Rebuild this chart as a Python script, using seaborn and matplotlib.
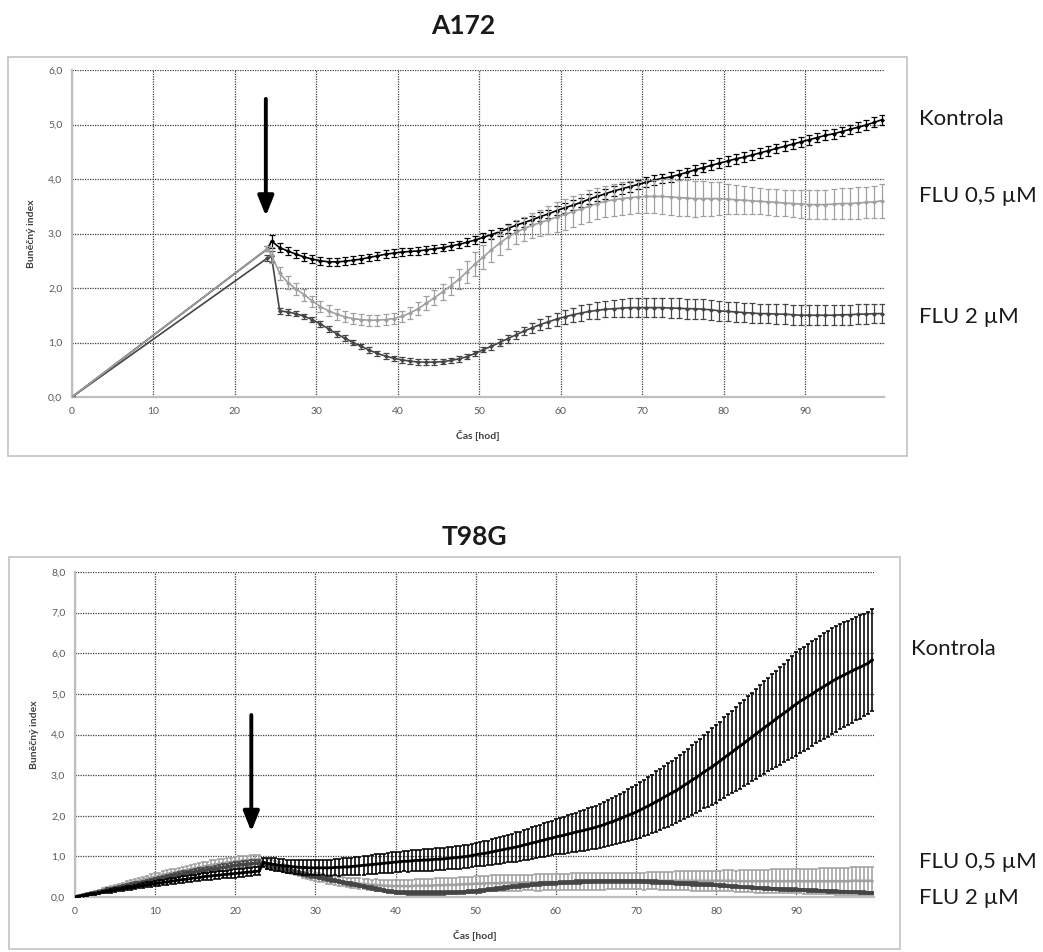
import numpy as np
import seaborn as sns
import matplotlib.pyplot as plt
from matplotlib.patches import Rectangle
from matplotlib.ticker import FuncFormatter

# ---------------- A172 data (hourly after treatment) ----------------
time_a172 = np.concatenate([[0.0, 24.0, 24.5], np.arange(25.5, 100.0, 1.0)])

kontrola_a172 = [
    0.00, 2.72, 2.86,
    2.74, 2.68, 2.62, 2.57, 2.53, 2.50, 2.48, 2.48, 2.49, 2.51,
    2.53, 2.56, 2.59, 2.62, 2.64, 2.66, 2.67, 2.68, 2.70, 2.72,
    2.74, 2.77, 2.80, 2.84, 2.88, 2.93, 2.98, 3.03, 3.09, 3.15,
    3.20, 3.25, 3.31, 3.36, 3.42, 3.47, 3.52, 3.57, 3.63, 3.68,
    3.73, 3.78, 3.82, 3.86, 3.90, 3.94, 3.98, 4.01, 4.04, 4.08,
    4.12, 4.17, 4.21, 4.25, 4.29, 4.33, 4.37, 4.40, 4.44, 4.48,
    4.52, 4.56, 4.60, 4.64, 4.68, 4.72, 4.76, 4.80, 4.83, 4.87,
    4.91, 4.95, 4.99, 5.04, 5.09,
]
kontrola_a172_err = [
    0.00, 0.05, 0.12,
    0.08, 0.08, 0.07, 0.07, 0.07, 0.07, 0.07, 0.07, 0.07, 0.07,
    0.07, 0.07, 0.07, 0.07, 0.07, 0.07, 0.07, 0.07, 0.07, 0.07,
    0.07, 0.07, 0.07, 0.07, 0.07, 0.08, 0.08, 0.08, 0.08, 0.08,
    0.08, 0.08, 0.08, 0.08, 0.08, 0.09, 0.09, 0.09, 0.09, 0.09,
    0.09, 0.09, 0.09, 0.09, 0.09, 0.09, 0.09, 0.09, 0.09, 0.09,
    0.09, 0.09, 0.09, 0.09, 0.09, 0.09, 0.09, 0.09, 0.09, 0.09,
    0.09, 0.09, 0.09, 0.09, 0.09, 0.09, 0.09, 0.09, 0.09, 0.09,
    0.09, 0.09, 0.09, 0.09, 0.09,
]
flu05_a172 = [
    0.00, 2.72, 2.60,
    2.27, 2.10, 1.98, 1.88, 1.76, 1.66, 1.58, 1.52, 1.47, 1.44,
    1.42, 1.41, 1.41, 1.42, 1.44, 1.48, 1.54, 1.62, 1.72, 1.82,
    1.93, 2.04, 2.16, 2.30, 2.44, 2.57, 2.70, 2.82, 2.93, 3.02,
    3.09, 3.15, 3.20, 3.25, 3.30, 3.35, 3.40, 3.45, 3.50, 3.55,
    3.59, 3.62, 3.64, 3.66, 3.67, 3.68, 3.68, 3.68, 3.67, 3.66,
    3.65, 3.64, 3.64, 3.64, 3.64, 3.63, 3.62, 3.61, 3.60, 3.59,
    3.58, 3.57, 3.56, 3.55, 3.54, 3.53, 3.53, 3.53, 3.54, 3.55,
    3.55, 3.56, 3.57, 3.58, 3.60,
]
flu05_a172_err = [
    0.00, 0.05, 0.15,
    0.12, 0.12, 0.11, 0.11, 0.10, 0.10, 0.10, 0.10, 0.10, 0.10,
    0.10, 0.10, 0.10, 0.10, 0.10, 0.10, 0.11, 0.12, 0.13, 0.14,
    0.15, 0.16, 0.18, 0.20, 0.22, 0.22, 0.22, 0.22, 0.22, 0.22,
    0.22, 0.23, 0.24, 0.25, 0.27, 0.28, 0.28, 0.28, 0.29, 0.29,
    0.29, 0.29, 0.30, 0.30, 0.30, 0.30, 0.31, 0.32, 0.33, 0.33,
    0.33, 0.33, 0.32, 0.31, 0.30, 0.28, 0.27, 0.26, 0.25, 0.24,
    0.24, 0.24, 0.24, 0.24, 0.25, 0.26, 0.27, 0.27, 0.27, 0.28,
    0.28, 0.29, 0.29, 0.30, 0.31,
]
flu2_a172 = [
    0.00, 2.55, 2.58,
    1.58, 1.56, 1.53, 1.48, 1.42, 1.34, 1.25, 1.16, 1.08, 1.00,
    0.93, 0.86, 0.80, 0.75, 0.71, 0.68, 0.66, 0.64, 0.64, 0.64,
    0.65, 0.67, 0.70, 0.74, 0.80, 0.87, 0.93, 1.00, 1.07, 1.14,
    1.21, 1.27, 1.33, 1.38, 1.43, 1.47, 1.51, 1.54, 1.57, 1.59,
    1.61, 1.62, 1.63, 1.64, 1.64, 1.64, 1.64, 1.64, 1.63, 1.63,
    1.62, 1.62, 1.61, 1.60, 1.58, 1.57, 1.56, 1.55, 1.54, 1.53,
    1.53, 1.52, 1.52, 1.51, 1.50, 1.50, 1.50, 1.50, 1.50, 1.51,
    1.51, 1.52, 1.52, 1.53, 1.53,
]
flu2_a172_err = [
    0.00, 0.05, 0.10,
    0.05, 0.05, 0.05, 0.05, 0.05, 0.05, 0.05, 0.05, 0.05, 0.05,
    0.05, 0.05, 0.05, 0.05, 0.05, 0.05, 0.05, 0.05, 0.05, 0.05,
    0.05, 0.05, 0.05, 0.05, 0.05, 0.05, 0.06, 0.06, 0.07, 0.07,
    0.08, 0.09, 0.10, 0.11, 0.12, 0.13, 0.13, 0.14, 0.14, 0.15,
    0.15, 0.16, 0.16, 0.17, 0.17, 0.17, 0.18, 0.18, 0.18, 0.18,
    0.18, 0.18, 0.18, 0.18, 0.18, 0.18, 0.18, 0.18, 0.18, 0.18,
    0.18, 0.18, 0.18, 0.18, 0.18, 0.18, 0.18, 0.18, 0.18, 0.18,
    0.18, 0.18, 0.18, 0.18, 0.18,
]

# ---------------- T98G data (every 0.5 h) ----------------
time_t98g = np.arange(0.0, 100.0, 0.5)

kontrola_t98g = [
    0.00, 0.02, 0.03, 0.05, 0.07, 0.08, 0.10, 0.12, 0.14, 0.15, 0.17, 0.19, 0.20, 0.22, 0.23, 0.25, 0.27, 0.28, 0.30, 0.31,
    0.33, 0.34, 0.36, 0.37, 0.39, 0.40, 0.42, 0.43, 0.44, 0.46, 0.47, 0.48, 0.50, 0.51, 0.52, 0.53, 0.54, 0.55, 0.56, 0.57,
    0.58, 0.59, 0.60, 0.61, 0.62, 0.63, 0.64, 0.85, 0.83, 0.81, 0.80, 0.78, 0.77, 0.76, 0.75, 0.74, 0.73, 0.73, 0.72, 0.72,
    0.72, 0.72, 0.72, 0.72, 0.72, 0.73, 0.73, 0.74, 0.74, 0.75, 0.76, 0.77, 0.78, 0.79, 0.80, 0.81, 0.82, 0.83, 0.84, 0.85,
    0.86, 0.87, 0.88, 0.88, 0.89, 0.90, 0.90, 0.91, 0.91, 0.92, 0.93, 0.93, 0.94, 0.95, 0.96, 0.97, 0.98, 0.99, 1.00, 1.02,
    1.04, 1.06, 1.07, 1.09, 1.11, 1.13, 1.15, 1.17, 1.19, 1.21, 1.23, 1.25, 1.28, 1.30, 1.33, 1.35, 1.38, 1.40, 1.43, 1.45,
    1.48, 1.50, 1.52, 1.55, 1.57, 1.60, 1.62, 1.64, 1.67, 1.69, 1.72, 1.75, 1.78, 1.82, 1.85, 1.89, 1.93, 1.97, 2.01, 2.05,
    2.09, 2.14, 2.19, 2.24, 2.29, 2.35, 2.40, 2.46, 2.51, 2.57, 2.62, 2.68, 2.75, 2.81, 2.88, 2.94, 3.01, 3.08, 3.14, 3.21,
    3.28, 3.35, 3.43, 3.50, 3.57, 3.65, 3.72, 3.79, 3.87, 3.94, 4.02, 4.09, 4.17, 4.24, 4.31, 4.39, 4.46, 4.53, 4.60, 4.68,
    4.75, 4.82, 4.88, 4.94, 5.00, 5.07, 5.13, 5.19, 5.25, 5.31, 5.37, 5.42, 5.47, 5.52, 5.57, 5.62, 5.66, 5.71, 5.76, 5.84,
]
kontrola_t98g_err = [
    0.00, 0.01, 0.01, 0.02, 0.02, 0.02, 0.03, 0.03, 0.03, 0.04, 0.04, 0.04, 0.05, 0.05, 0.05, 0.05, 0.06, 0.06, 0.06, 0.06,
    0.07, 0.07, 0.07, 0.07, 0.07, 0.08, 0.08, 0.08, 0.08, 0.08, 0.08, 0.08, 0.09, 0.09, 0.09, 0.09, 0.09, 0.09, 0.09, 0.09,
    0.10, 0.10, 0.10, 0.10, 0.10, 0.10, 0.10, 0.12, 0.13, 0.14, 0.15, 0.15, 0.16, 0.16, 0.17, 0.17, 0.17, 0.18, 0.18, 0.18,
    0.19, 0.19, 0.19, 0.20, 0.20, 0.20, 0.21, 0.21, 0.21, 0.22, 0.22, 0.22, 0.23, 0.23, 0.23, 0.24, 0.24, 0.24, 0.25, 0.25,
    0.25, 0.25, 0.25, 0.26, 0.26, 0.26, 0.26, 0.26, 0.27, 0.27, 0.27, 0.27, 0.27, 0.27, 0.28, 0.28, 0.28, 0.28, 0.28, 0.28,
    0.28, 0.29, 0.30, 0.30, 0.31, 0.32, 0.33, 0.33, 0.34, 0.35, 0.36, 0.36, 0.37, 0.38, 0.39, 0.39, 0.40, 0.41, 0.42, 0.42,
    0.43, 0.44, 0.45, 0.46, 0.47, 0.48, 0.49, 0.50, 0.51, 0.52, 0.53, 0.54, 0.55, 0.57, 0.58, 0.59, 0.61, 0.62, 0.64, 0.65,
    0.67, 0.68, 0.70, 0.71, 0.72, 0.74, 0.75, 0.77, 0.78, 0.79, 0.80, 0.82, 0.83, 0.84, 0.86, 0.87, 0.89, 0.90, 0.92, 0.94,
    0.96, 0.97, 0.99, 1.00, 1.02, 1.03, 1.05, 1.06, 1.08, 1.09, 1.11, 1.12, 1.14, 1.15, 1.17, 1.18, 1.20, 1.21, 1.23, 1.25,
    1.27, 1.28, 1.28, 1.29, 1.29, 1.29, 1.30, 1.30, 1.30, 1.30, 1.30, 1.29, 1.29, 1.28, 1.28, 1.27, 1.27, 1.26, 1.26, 1.25,
]
flu05_t98g = [
    0.00, 0.03, 0.05, 0.08, 0.10, 0.13, 0.15, 0.18, 0.20, 0.23, 0.25, 0.28, 0.30, 0.33, 0.35, 0.38, 0.40, 0.43, 0.45, 0.48,
    0.50, 0.52, 0.55, 0.57, 0.59, 0.61, 0.63, 0.65, 0.67, 0.69, 0.71, 0.73, 0.75, 0.77, 0.79, 0.80, 0.82, 0.83, 0.85, 0.86,
    0.88, 0.89, 0.90, 0.91, 0.92, 0.92, 0.93, 0.86, 0.84, 0.81, 0.78, 0.75, 0.72, 0.69, 0.66, 0.63, 0.61, 0.58, 0.55, 0.53,
    0.50, 0.48, 0.46, 0.44, 0.42, 0.41, 0.39, 0.38, 0.36, 0.35, 0.34, 0.33, 0.32, 0.31, 0.30, 0.30, 0.29, 0.28, 0.28, 0.27,
    0.27, 0.27, 0.27, 0.27, 0.27, 0.28, 0.28, 0.28, 0.28, 0.28, 0.29, 0.29, 0.29, 0.30, 0.30, 0.30, 0.31, 0.31, 0.32, 0.32,
    0.33, 0.33, 0.33, 0.34, 0.34, 0.34, 0.34, 0.35, 0.35, 0.35, 0.35, 0.35, 0.36, 0.36, 0.36, 0.36, 0.36, 0.37, 0.37, 0.37,
    0.37, 0.37, 0.37, 0.37, 0.38, 0.38, 0.38, 0.38, 0.38, 0.38, 0.38, 0.38, 0.38, 0.39, 0.39, 0.39, 0.39, 0.39, 0.39, 0.39,
    0.39, 0.39, 0.39, 0.40, 0.40, 0.40, 0.40, 0.40, 0.40, 0.40, 0.40, 0.40, 0.40, 0.40, 0.40, 0.40, 0.40, 0.40, 0.40, 0.40,
    0.40, 0.40, 0.40, 0.40, 0.40, 0.39, 0.39, 0.39, 0.39, 0.39, 0.39, 0.39, 0.39, 0.39, 0.39, 0.39, 0.39, 0.39, 0.39, 0.39,
    0.39, 0.39, 0.39, 0.39, 0.39, 0.39, 0.39, 0.39, 0.39, 0.39, 0.39, 0.39, 0.39, 0.39, 0.40, 0.40, 0.40, 0.40, 0.40, 0.40,
]
flu05_t98g_err = [
    0.00, 0.01, 0.01, 0.02, 0.02, 0.03, 0.03, 0.03, 0.04, 0.04, 0.05, 0.05, 0.05, 0.06, 0.06, 0.06, 0.07, 0.07, 0.07, 0.08,
    0.08, 0.08, 0.08, 0.09, 0.09, 0.09, 0.09, 0.10, 0.10, 0.10, 0.10, 0.10, 0.10, 0.10, 0.11, 0.11, 0.11, 0.11, 0.11, 0.11,
    0.11, 0.11, 0.11, 0.11, 0.11, 0.11, 0.11, 0.10, 0.10, 0.10, 0.10, 0.10, 0.10, 0.10, 0.10, 0.10, 0.10, 0.10, 0.10, 0.10,
    0.10, 0.10, 0.10, 0.11, 0.11, 0.11, 0.11, 0.12, 0.12, 0.12, 0.12, 0.13, 0.13, 0.13, 0.13, 0.14, 0.14, 0.14, 0.14, 0.15,
    0.15, 0.15, 0.15, 0.15, 0.16, 0.16, 0.16, 0.16, 0.16, 0.17, 0.17, 0.17, 0.17, 0.17, 0.17, 0.18, 0.18, 0.18, 0.18, 0.18,
    0.18, 0.18, 0.18, 0.18, 0.19, 0.19, 0.19, 0.19, 0.19, 0.19, 0.19, 0.19, 0.19, 0.19, 0.19, 0.20, 0.20, 0.20, 0.20, 0.20,
    0.20, 0.20, 0.20, 0.20, 0.20, 0.20, 0.20, 0.20, 0.20, 0.20, 0.20, 0.20, 0.20, 0.20, 0.20, 0.20, 0.20, 0.20, 0.20, 0.20,
    0.20, 0.20, 0.21, 0.21, 0.21, 0.21, 0.22, 0.22, 0.22, 0.22, 0.23, 0.23, 0.23, 0.23, 0.24, 0.24, 0.24, 0.24, 0.25, 0.25,
    0.25, 0.25, 0.26, 0.26, 0.26, 0.26, 0.27, 0.27, 0.27, 0.27, 0.28, 0.28, 0.28, 0.28, 0.29, 0.29, 0.29, 0.29, 0.30, 0.30,
    0.30, 0.30, 0.31, 0.31, 0.31, 0.31, 0.32, 0.32, 0.32, 0.32, 0.33, 0.33, 0.33, 0.33, 0.34, 0.34, 0.34, 0.35, 0.35, 0.35,
]
flu2_t98g = [
    0.00, 0.02, 0.05, 0.07, 0.09, 0.11, 0.13, 0.15, 0.18, 0.20, 0.22, 0.24, 0.26, 0.28, 0.30, 0.32, 0.34, 0.36, 0.38, 0.40,
    0.43, 0.45, 0.47, 0.49, 0.51, 0.53, 0.55, 0.57, 0.59, 0.60, 0.62, 0.64, 0.65, 0.67, 0.68, 0.70, 0.71, 0.73, 0.74, 0.76,
    0.78, 0.79, 0.80, 0.81, 0.82, 0.83, 0.84, 0.80, 0.77, 0.75, 0.72, 0.70, 0.67, 0.65, 0.63, 0.61, 0.58, 0.56, 0.54, 0.52,
    0.50, 0.48, 0.46, 0.44, 0.42, 0.40, 0.38, 0.36, 0.34, 0.32, 0.30, 0.28, 0.26, 0.24, 0.22, 0.20, 0.18, 0.16, 0.14, 0.13,
    0.12, 0.11, 0.11, 0.10, 0.10, 0.10, 0.10, 0.10, 0.10, 0.10, 0.10, 0.10, 0.10, 0.11, 0.11, 0.11, 0.12, 0.12, 0.13, 0.13,
    0.14, 0.15, 0.16, 0.18, 0.19, 0.20, 0.21, 0.22, 0.24, 0.25, 0.26, 0.27, 0.28, 0.29, 0.30, 0.31, 0.32, 0.33, 0.33, 0.34,
    0.34, 0.35, 0.35, 0.36, 0.36, 0.37, 0.37, 0.38, 0.38, 0.38, 0.39, 0.39, 0.39, 0.39, 0.39, 0.39, 0.39, 0.39, 0.39, 0.39,
    0.39, 0.39, 0.38, 0.38, 0.37, 0.37, 0.36, 0.36, 0.35, 0.35, 0.34, 0.34, 0.33, 0.33, 0.32, 0.32, 0.31, 0.31, 0.30, 0.30,
    0.29, 0.28, 0.28, 0.27, 0.26, 0.26, 0.25, 0.24, 0.24, 0.23, 0.22, 0.22, 0.21, 0.21, 0.20, 0.20, 0.19, 0.19, 0.18, 0.18,
    0.18, 0.17, 0.17, 0.16, 0.16, 0.16, 0.15, 0.15, 0.14, 0.14, 0.14, 0.13, 0.13, 0.12, 0.12, 0.12, 0.11, 0.11, 0.10, 0.10,
]
flu2_t98g_err = [
    0.00, 0.01, 0.01, 0.01, 0.02, 0.02, 0.02, 0.02, 0.03, 0.03, 0.03, 0.03, 0.03, 0.04, 0.04, 0.04, 0.04, 0.04, 0.05, 0.05,
    0.05, 0.05, 0.05, 0.05, 0.06, 0.06, 0.06, 0.06, 0.06, 0.06, 0.07, 0.07, 0.07, 0.07, 0.07, 0.07, 0.08, 0.08, 0.08, 0.08,
    0.08, 0.08, 0.08, 0.08, 0.08, 0.08, 0.08, 0.07, 0.07, 0.07, 0.06, 0.06, 0.06, 0.06, 0.05, 0.05, 0.05, 0.05, 0.05, 0.05,
    0.04, 0.04, 0.04, 0.04, 0.04, 0.04, 0.04, 0.04, 0.04, 0.04, 0.04, 0.04, 0.04, 0.04, 0.04, 0.04, 0.04, 0.04, 0.04, 0.04,
    0.04, 0.04, 0.04, 0.04, 0.04, 0.04, 0.04, 0.04, 0.04, 0.04, 0.04, 0.04, 0.04, 0.04, 0.04, 0.04, 0.04, 0.04, 0.04, 0.04,
    0.04, 0.04, 0.04, 0.04, 0.04, 0.04, 0.04, 0.04, 0.04, 0.04, 0.04, 0.04, 0.04, 0.04, 0.04, 0.04, 0.04, 0.04, 0.04, 0.04,
    0.04, 0.04, 0.04, 0.04, 0.04, 0.04, 0.04, 0.04, 0.04, 0.04, 0.04, 0.04, 0.04, 0.04, 0.04, 0.04, 0.04, 0.04, 0.04, 0.04,
    0.04, 0.04, 0.04, 0.04, 0.04, 0.04, 0.04, 0.04, 0.04, 0.04, 0.04, 0.04, 0.04, 0.04, 0.04, 0.04, 0.04, 0.04, 0.04, 0.04,
    0.03, 0.03, 0.03, 0.03, 0.03, 0.03, 0.03, 0.03, 0.03, 0.03, 0.03, 0.03, 0.03, 0.03, 0.03, 0.03, 0.03, 0.03, 0.03, 0.03,
    0.03, 0.03, 0.03, 0.03, 0.03, 0.03, 0.03, 0.03, 0.03, 0.03, 0.03, 0.03, 0.03, 0.03, 0.03, 0.03, 0.03, 0.03, 0.03, 0.03,
]

series_names = ["Kontrola", "FLU 0,5 µM", "FLU 2 µM"]
series_colors = {"Kontrola": "#000000", "FLU 0,5 µM": "#a0a0a0", "FLU 2 µM": "#454545"}

FIG_W, FIG_H = 1043, 952


def px_rect(x0, y0, x1, y1):
    """Pixel box (top-left origin) -> figure fraction rect."""
    return [x0 / FIG_W, 1 - y1 / FIG_H, (x1 - x0) / FIG_W, (y1 - y0) / FIG_H]


def comma_fmt(v, pos):
    return f"{v:.1f}".replace(".", ",")


def draw_panel(ax, t, data, order, ymax, capsize, elw, marker_size,
               arrow_x, arrow_top, arrow_tip):
    for z, name in enumerate(order):
        vals, err, lw = data[name]
        c = series_colors[name]
        ax.errorbar(t, vals, yerr=err, fmt="none", ecolor=c, elinewidth=elw,
                    capsize=capsize, capthick=elw, zorder=3 + 2 * z)
        sns.lineplot(x=t, y=vals, ax=ax, color=c, linewidth=lw, marker="D",
                     markersize=marker_size, markeredgewidth=0, sort=False,
                     zorder=4 + 2 * z)

    ax.set_xlim(0, 99.7)
    ax.set_ylim(0, ymax)
    ax.set_xticks(np.arange(0, 100, 10))
    ax.set_yticks(np.arange(0, ymax + 0.5, 1.0))
    ax.yaxis.set_major_formatter(FuncFormatter(comma_fmt))
    ax.grid(True, color="#3c3c3c", linestyle=(0, (1, 1)), linewidth=0.9)
    ax.set_axisbelow(True)
    for s in ["top", "right"]:
        ax.spines[s].set_visible(False)
    for s in ["left", "bottom"]:
        ax.spines[s].set_color("#bfbfbf")
        ax.spines[s].set_linewidth(1.6)
        ax.spines[s].set_zorder(2.5)
    ax.tick_params(length=0, labelsize=7.5, labelcolor="#595959", pad=7)
    ax.set_xlabel("Čas [hod]", fontsize=7.5, fontweight="bold", color="#404040", labelpad=10)
    ax.set_ylabel("Buněčný index", fontsize=7.5, fontweight="bold", color="#404040", labelpad=9)

    ax.annotate("", xy=(arrow_x, arrow_tip), xytext=(arrow_x, arrow_top),
                arrowprops=dict(arrowstyle="-|>,head_length=1.0,head_width=0.4",
                                color="black", lw=2.8, shrinkA=0, shrinkB=0),
                zorder=20)


sns.set_theme(style="white")
plt.rcParams["font.family"] = ["Lato", "DejaVu Sans"]

fig = plt.figure(figsize=(FIG_W / 100, FIG_H / 100), dpi=100)
fig.patch.set_facecolor("white")

# outer chart frames
for box in [(8, 57, 907, 456), (9, 557, 900, 949)]:
    r = px_rect(*box)
    fig.add_artist(Rectangle((r[0], r[1]), r[2], r[3], transform=fig.transFigure,
                             fill=False, edgecolor="#c8c8c8", linewidth=1.3))

# A172 panel
ax1 = fig.add_axes(px_rect(72, 70, 884, 397))
draw_panel(
    ax1, time_a172,
    {"Kontrola": (kontrola_a172, kontrola_a172_err, 1.2),
     "FLU 0,5 µM": (flu05_a172, flu05_a172_err, 1.2),
     "FLU 2 µM": (flu2_a172, flu2_a172_err, 1.2)},
    order=["Kontrola", "FLU 2 µM", "FLU 0,5 µM"],
    ymax=6, capsize=2.2, elw=0.9, marker_size=2.6,
    arrow_x=23.8, arrow_top=5.47, arrow_tip=3.32,
)

# T98G panel
ax2 = fig.add_axes(px_rect(75, 572, 874, 897))
draw_panel(
    ax2, time_t98g,
    {"Kontrola": (kontrola_t98g, kontrola_t98g_err, 2.0),
     "FLU 0,5 µM": (flu05_t98g, flu05_t98g_err, 1.8),
     "FLU 2 µM": (flu2_t98g, flu2_t98g_err, 2.6)},
    order=["FLU 0,5 µM", "FLU 2 µM", "Kontrola"],
    ymax=8, capsize=1.6, elw=1.15, marker_size=1.5,
    arrow_x=22.0, arrow_top=4.48, arrow_tip=1.61,
)

# titles
fig.text(463 / FIG_W, 1 - 26 / FIG_H, "A172", ha="center", va="center",
         fontsize=19, fontweight="bold", color="#1a1a1a")
fig.text(474 / FIG_W, 1 - 537 / FIG_H, "T98G", ha="center", va="center",
         fontsize=19, fontweight="bold", color="#1a1a1a")

# series labels on the right
labels = [
    ("Kontrola", 919, 119), ("FLU 0,5 µM", 919, 196), ("FLU 2 µM", 919, 317),
    ("Kontrola", 911, 649), ("FLU 0,5 µM", 919, 862), ("FLU 2 µM", 919, 898),
]
for text, x, y in labels:
    fig.text(x / FIG_W, 1 - y / FIG_H, text, ha="left", va="center",
             fontsize=16, color="#1a1a1a")

fig.savefig("out.png", dpi=100, facecolor="white")
